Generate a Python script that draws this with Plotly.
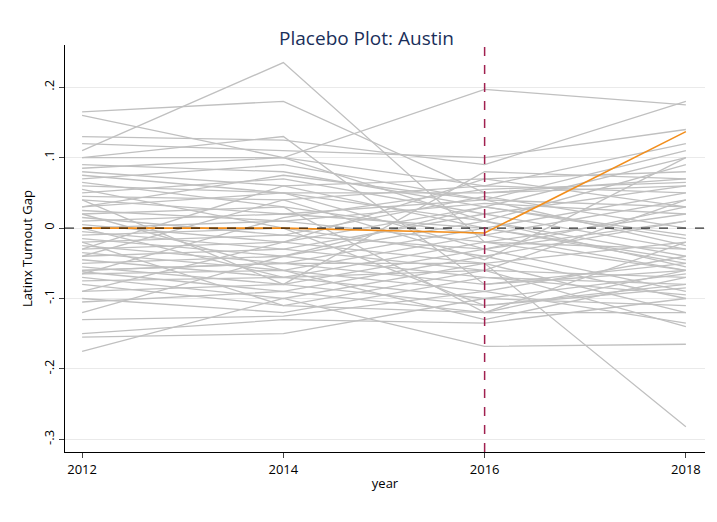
import plotly.graph_objects as go

years = [2012, 2014, 2016, 2018]
treated_name = "Austin"
treated_gap = [0.0, 0.0, -0.007, 0.137]

placebo_gaps = [
    [0.11, 0.235, -0.02, -0.06], [0.165, 0.18, 0.05, 0.06], [0.10, 0.13, -0.08, -0.05],
    [0.16, 0.10, 0.197, 0.175], [0.13, 0.125, 0.09, 0.18], [0.12, 0.11, 0.10, 0.14],
    [0.10, 0.10, 0.06, 0.12], [0.09, 0.08, 0.03, 0.10], [0.08, 0.06, 0.07, 0.08],
    [0.07, 0.09, 0.04, 0.11], [0.06, 0.05, 0.05, 0.07], [0.05, 0.07, 0.02, 0.06],
    [0.045, 0.04, 0.06, 0.05], [0.04, 0.02, 0.04, 0.03], [0.03, 0.05, 0.01, 0.09],
    [0.025, 0.01, 0.035, 0.02], [0.02, 0.03, -0.01, 0.04], [0.015, -0.01, 0.045, 0.0],
    [0.01, 0.02, 0.00, 0.05], [0.005, -0.02, 0.03, -0.01], [0.0, 0.01, -0.02, 0.02],
    [-0.005, -0.03, 0.02, -0.03], [-0.01, 0.0, -0.04, 0.01], [-0.015, -0.04, 0.01, -0.04],
    [-0.02, -0.01, -0.03, 0.03], [-0.025, -0.05, 0.0, -0.05], [-0.03, -0.02, -0.05, -0.02],
    [-0.035, -0.06, -0.01, -0.06], [-0.04, -0.03, -0.06, -0.07], [-0.045, -0.07, -0.02, -0.03],
    [-0.05, -0.04, -0.07, -0.08], [-0.055, -0.08, -0.03, -0.09], [-0.06, -0.05, -0.08, -0.06],
    [-0.062, -0.09, -0.04, -0.1], [-0.065, -0.06, -0.09, -0.04], [-0.07, -0.1, -0.05, -0.12],
    [-0.075, -0.07, -0.1, -0.065], [-0.08, -0.11, -0.06, -0.14], [-0.09, -0.08, -0.11, -0.08],
    [-0.1, -0.12, -0.07, -0.095], [-0.105, -0.09, -0.12, -0.12], [-0.13, -0.125, -0.09, -0.135],
    [-0.15, -0.13, -0.135, -0.1], [-0.155, -0.15, -0.1, -0.11], [-0.175, -0.1, -0.168, -0.165],
    [-0.06, -0.05, -0.05, -0.282], [0.065, 0.03, -0.12, -0.02], [-0.09, -0.02, 0.07, 0.03],
    [0.02, -0.06, -0.13, -0.07], [-0.03, 0.06, 0.0, -0.045], [0.04, -0.08, 0.08, 0.07],
    [-0.12, -0.04, 0.03, -0.015], [0.085, 0.1, 0.01, -0.055], [-0.04, 0.04, -0.045, 0.1],
    [0.0, -0.07, -0.06, 0.04], [0.055, 0.0, -0.11, -0.085], [-0.065, 0.015, 0.055, 0.065],
    [0.03, 0.075, 0.04, -0.025], [-0.02, -0.11, -0.12, -0.06], [0.075, 0.05, -0.03, 0.01],
]

fig = go.Figure()
for g in placebo_gaps:
    fig.add_trace(go.Scatter(x=years, y=g, mode="lines", line=dict(color="#c0c0c0", width=1.3),
                             showlegend=False, hoverinfo="skip"))
fig.add_trace(go.Scatter(x=years, y=treated_gap, mode="lines", name=treated_name,
                         line=dict(color="#f28e1c", width=1.6), showlegend=False))
fig.add_hline(y=0, line=dict(color="black", width=1, dash="dash"))
fig.add_vline(x=2016, line=dict(color="#a0204f", width=1.5, dash="dash"))

fig.update_layout(
    width=717, height=522, paper_bgcolor="white", plot_bgcolor="white",
    margin=dict(l=57, r=20, t=37, b=78),
    font=dict(family="Open Sans", size=13, color="black"),
    title=dict(text="Placebo Plot: Austin", x=0.5, xanchor="center", y=0.955,
               font=dict(size=19, color="#1a2f5a")),
    xaxis=dict(range=[2011.83, 2018.19], tickvals=years, ticktext=[str(y) for y in years],
               title=dict(text="year", standoff=2, font=dict(size=13)), showgrid=False, showline=True,
               linecolor="black", ticks="outside", ticklen=5, zeroline=False),
    yaxis=dict(range=[-0.318, 0.26], tickvals=[-0.3, -0.2, -0.1, 0, 0.1, 0.2],
               ticktext=["-.3", "-.2", "-.1", "0", ".1", ".2"], tickangle=-90,
               title=dict(text="Latinx Turnout Gap", standoff=4, font=dict(size=13)), showgrid=True,
               gridcolor="#eaeaea", showline=True, linecolor="black", ticks="outside",
               ticklen=5, zeroline=False),
)
fig.write_html("out.html")
